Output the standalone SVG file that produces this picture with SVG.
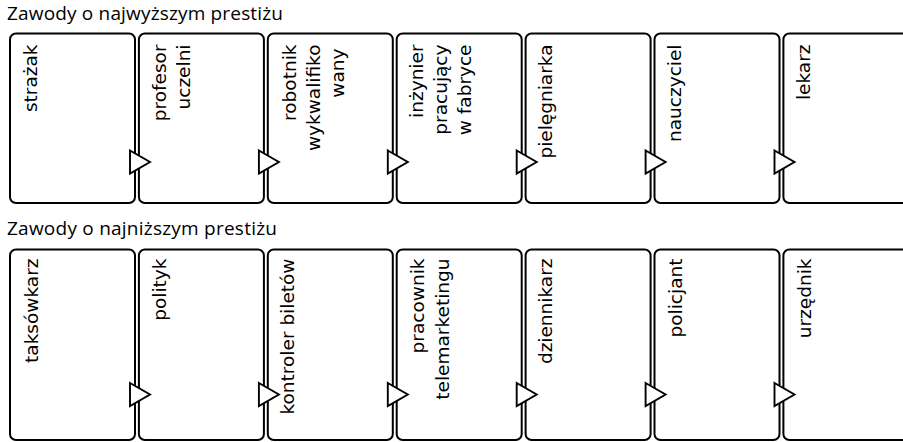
<svg xmlns="http://www.w3.org/2000/svg" width="903" height="442" viewBox="0 0 903 442">
<style>
.bg{fill:#ffffff}
.box{fill:#ffffff;stroke:#000000;stroke-width:2}
.tri{fill:#ffffff;stroke:#000000;stroke-width:1.9;stroke-linejoin:miter}
.head{font-family:"Open Sans","Liberation Sans",sans-serif;font-size:19px;fill:#000000}
.lbl{font-family:"DejaVu Sans","Liberation Sans",sans-serif;font-size:18.5px;fill:#000000;text-anchor:end}
</style>
<rect class="bg" x="0" y="0" width="903" height="442"/>
<text class="head" x="7" y="20" textLength="276" lengthAdjust="spacing">Zawody o najwyższym prestiżu</text>
<text class="head" x="7" y="235" textLength="270" lengthAdjust="spacing">Zawody o najniższym prestiżu</text>

<g id="top-row">
<g id="n1"><rect class="box" x="10" y="33.5" width="125" height="169.5" rx="6"/><text class="lbl" transform="rotate(-90)" x="-44.5" y="37">strażak</text></g>
<g id="n2"><rect class="box" x="138.9" y="33.5" width="125" height="169.5" rx="6"/><text class="lbl" transform="rotate(-90)"><tspan x="-44.5" y="166">profesor</tspan><tspan x="-44.5" y="190">uczelni</tspan></text></g>
<g id="n3"><rect class="box" x="267.8" y="33.5" width="125" height="169.5" rx="6"/><text class="lbl" transform="rotate(-90)"><tspan x="-44.5" y="296">robotnik</tspan><tspan x="-44.5" y="320">wykwalifiko</tspan><tspan x="-48.5" y="344">wany</tspan></text></g>
<g id="n4"><rect class="box" x="396.7" y="33.5" width="125" height="169.5" rx="6"/><text class="lbl" transform="rotate(-90)"><tspan x="-44.5" y="423">inżynier</tspan><tspan x="-44.5" y="447">pracujący</tspan><tspan x="-44.5" y="471">w fabryce</tspan></text></g>
<g id="n5"><rect class="box" x="525.6" y="33.5" width="125" height="169.5" rx="6"/><text class="lbl" transform="rotate(-90)" x="-44.5" y="552">pielęgniarka</text></g>
<g id="n6"><rect class="box" x="654.5" y="33.5" width="125" height="169.5" rx="6"/><text class="lbl" transform="rotate(-90)" x="-44.5" y="681">nauczyciel</text></g>
<g id="n7"><rect class="box" x="783.4" y="33.5" width="125" height="169.5" rx="6"/><text class="lbl" transform="rotate(-90)" x="-44.5" y="810">lekarz</text></g>
</g>

<g id="bottom-row">
<g id="m1"><rect class="box" x="10" y="249.5" width="125" height="190.5" rx="6"/><text class="lbl" transform="rotate(-90)" x="-258.5" y="38">taksówkarz</text></g>
<g id="m2"><rect class="box" x="138.9" y="249.5" width="125" height="190.5" rx="6"/><text class="lbl" transform="rotate(-90)" x="-258.5" y="166">polityk</text></g>
<g id="m3"><rect class="box" x="267.8" y="249.5" width="125" height="190.5" rx="6"/><text class="lbl" transform="rotate(-90)" x="-258.5" y="294">kontroler biletów</text></g>
<g id="m4"><rect class="box" x="396.7" y="249.5" width="125" height="190.5" rx="6"/><text class="lbl" transform="rotate(-90)"><tspan x="-258.5" y="424">pracownik</tspan><tspan x="-258.5" y="449">telemarketingu</tspan></text></g>
<g id="m5"><rect class="box" x="525.6" y="249.5" width="125" height="190.5" rx="6"/><text class="lbl" transform="rotate(-90)" x="-258.5" y="552">dziennikarz</text></g>
<g id="m6"><rect class="box" x="654.5" y="249.5" width="125" height="190.5" rx="6"/><text class="lbl" transform="rotate(-90)" x="-258.5" y="682">policjant</text></g>
<g id="m7"><rect class="box" x="783.4" y="249.5" width="125" height="190.5" rx="6"/><text class="lbl" transform="rotate(-90)" x="-258.5" y="811">urzędnik</text></g>
</g>

<g id="connectors">
<polygon class="tri" points="130,150.5 150,162 130,173.5"/>
<polygon class="tri" points="258.9,150.5 278.9,162 258.9,173.5"/>
<polygon class="tri" points="387.8,150.5 407.8,162 387.8,173.5"/>
<polygon class="tri" points="516.7,150.5 536.7,162 516.7,173.5"/>
<polygon class="tri" points="645.6,150.5 665.6,162 645.6,173.5"/>
<polygon class="tri" points="774.5,150.5 794.5,162 774.5,173.5"/>
<polygon class="tri" points="130,383 150,394.5 130,406"/>
<polygon class="tri" points="258.9,383 278.9,394.5 258.9,406"/>
<polygon class="tri" points="387.8,383 407.8,394.5 387.8,406"/>
<polygon class="tri" points="516.7,383 536.7,394.5 516.7,406"/>
<polygon class="tri" points="645.6,383 665.6,394.5 645.6,406"/>
<polygon class="tri" points="774.5,383 794.5,394.5 774.5,406"/>
</g>
</svg>
